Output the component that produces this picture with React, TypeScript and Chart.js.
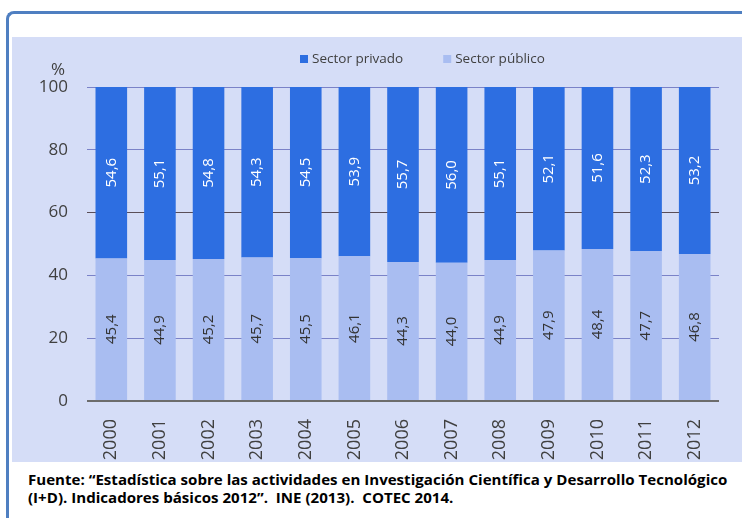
import React, { useEffect, useLayoutEffect, useRef } from "react";
import { Chart, registerables } from "chart.js";

Chart.register(...registerables);

const years = ["2000", "2001", "2002", "2003", "2004", "2005", "2006", "2007", "2008", "2009", "2010", "2011", "2012"];
const sectorPrivado = [54.6, 55.1, 54.8, 54.3, 54.5, 53.9, 55.7, 56.0, 55.1, 52.1, 51.6, 52.3, 53.2];
const sectorPublico = [45.4, 44.9, 45.2, 45.7, 45.5, 46.1, 44.3, 44.0, 44.9, 47.9, 48.4, 47.7, 46.8];
const yTickValues = [0, 20, 40, 60, 80, 100];
const seriesNames = ["Sector privado", "Sector público"];
const yUnit = "%";
const sourceLines = [
  "Fuente: \u201cEstadística sobre las actividades en Investigación Científica y Desarrollo Tecnológico",
  "(I+D). Indicadores básicos 2012\u201d.  INE (2013).  COTEC 2014.",
];

const DARK = "#2d6ee1";
const LIGHT = "#a9bdf1";
const PANEL = "#d5ddf7";
const TEXT = "#404040";
const FONT = '"Open Sans", "DejaVu Sans", sans-serif';

const valueLabels = {
  id: "valueLabels",
  afterDatasetsDraw(chart: any) {
    const ctx = chart.ctx;
    chart.data.datasets.forEach((ds: any, i: number) => {
      const meta = chart.getDatasetMeta(i);
      meta.data.forEach((bar: any, j: number) => {
        const v = ds.data[j];
        const { x, y, base } = bar.getProps(["x", "y", "base"], true);
        ctx.save();
        ctx.translate(x, (y + base) / 2);
        ctx.rotate(-Math.PI / 2);
        ctx.font = `15px ${FONT}`;
        ctx.fillStyle = ds.valueColor;
        ctx.textAlign = "center";
        ctx.textBaseline = "middle";
        ctx.fillText(v.toFixed(1).replace(".", ","), 0, 0);
        ctx.restore();
      });
    });
  },
};

const extras = {
  id: "extras",
  afterDraw(chart: any) {
    const ctx = chart.ctx;
    const area = chart.chartArea;
    // unit label
    ctx.save();
    ctx.font = `17px ${FONT}`;
    ctx.fillStyle = TEXT;
    ctx.textAlign = "center";
    ctx.textBaseline = "middle";
    ctx.fillText(yUnit, area.left - 29, area.top - 17);
    // legend (reverse dataset order: privado first)
    ctx.font = `13.5px ${FONT}`;
    ctx.textAlign = "left";
    let lx = area.left + 213;
    const ly = area.top - 28;
    const items = [...chart.data.datasets].reverse();
    items.forEach((ds: any) => {
      ctx.fillStyle = ds.backgroundColor;
      ctx.fillRect(lx, ly - 4, 8, 8);
      lx += 12;
      ctx.fillStyle = TEXT;
      ctx.fillText(ds.label, lx, ly);
      lx += ctx.measureText(ds.label).width + 40;
    });
    ctx.restore();
  },
};

function ChartPanel() {
  const ref = useRef<HTMLCanvasElement | null>(null);
  useEffect(() => {
    if (!ref.current) return;
    const chart = new Chart(ref.current, {
      type: "bar",
      data: {
        labels: years,
        datasets: [
          { label: seriesNames[1], data: sectorPublico, backgroundColor: LIGHT, valueColor: "#333333" } as any,
          { label: seriesNames[0], data: sectorPrivado, backgroundColor: DARK, valueColor: "#ffffff" } as any,
        ],
      },
      options: {
        animation: false,
        responsive: false,
        maintainAspectRatio: false,
        layout: { padding: { top: 50, right: 23, left: 0, bottom: 0 } },
        datasets: { bar: { categoryPercentage: 1, barPercentage: 0.65 } },
        plugins: { legend: { display: false }, tooltip: { enabled: false } },
        scales: {
          x: {
            stacked: true,
            grid: { display: false },
            border: { display: false },
            ticks: {
              minRotation: 90,
              maxRotation: 90,
              padding: 10,
              color: TEXT,
              font: { family: FONT, size: 18 },
            },
            afterFit: (s: any) => {
              s.height = 61;
            },
          },
          y: {
            stacked: true,
            min: 0,
            max: 100,
            afterBuildTicks: (s: any) => {
              s.ticks = yTickValues.map((v) => ({ value: v }));
            },
            afterFit: (s: any) => {
              s.width = 75;
            },
            border: { display: false },
            grid: {
              drawTicks: false,
              color: (c: any) => (c.tick.value === 0 ? "#6c6c6c" : c.tick.value === 60 ? "#5a4e58" : "#7a82c8"),
              lineWidth: (c: any) => (c.tick.value === 0 ? 2 : 1),
            },
            ticks: {
              padding: 19,
              color: TEXT,
              font: { family: FONT, size: 17 },
            },
          },
        },
      },
      plugins: [valueLabels, extras],
    });
    return () => chart.destroy();
  }, []);
  return <canvas ref={ref} width={730} height={425} style={{ display: "block", width: 730, height: 425 }} />;
}

function Footnote() {
  const l1 = useRef<HTMLDivElement | null>(null);
  const wrap = useRef<HTMLDivElement | null>(null);
  useLayoutEffect(() => {
    if (!l1.current || !wrap.current) return;
    const w = l1.current.scrollWidth;
    const k = w > 0 ? 699 / w : 1;
    wrap.current.style.transform = `scaleX(${k})`;
  }, []);
  const lineStyle: React.CSSProperties = { whiteSpace: "pre", display: "inline-block", height: 18 };
  return (
    <div
      ref={wrap}
      style={{
        position: "absolute",
        left: 28,
        top: 471,
        transformOrigin: "0 0",
        fontFamily: FONT,
        fontWeight: 700,
        fontSize: 14.5,
        lineHeight: "18px",
        color: "#000",
      }}
    >
      <div ref={l1} style={lineStyle}>{sourceLines[0]}</div>
      <br />
      <div style={lineStyle}>{sourceLines[1]}</div>
    </div>
  );
}

export default function App() {
  return (
    <div style={{ position: "absolute", left: 0, top: 0, width: 742, height: 518, overflow: "hidden", background: "#fff" }}>
      <div
        style={{
          position: "absolute",
          left: 6,
          top: 11,
          width: 800,
          height: 600,
          borderLeft: "3px solid #4f7fc1",
          borderTop: "3px solid #4f7fc1",
          borderTopLeftRadius: 8,
        }}
      />
      <div style={{ position: "absolute", left: 12, top: 37, width: 730, height: 425, background: PANEL }}>
        <ChartPanel />
      </div>
      <Footnote />
    </div>
  );
}
